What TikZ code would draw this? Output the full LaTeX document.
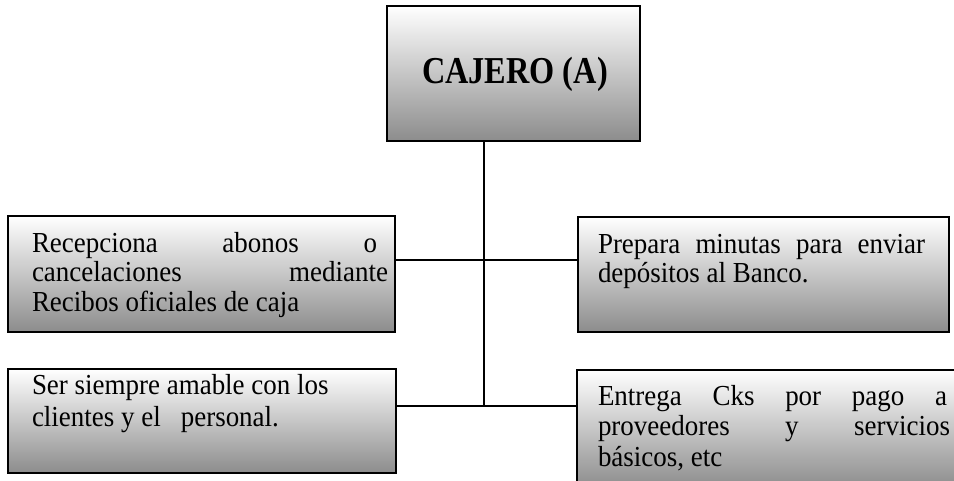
\documentclass[tikz,border=0pt]{standalone}
\usepackage{fontspec}
\setmainfont{Liberation Serif}
\newfontfamily\bodyfont[FakeStretch=0.93]{Liberation Serif}
\newfontfamily\titlefont[FakeStretch=0.85]{Liberation Serif}
\newcommand\bt{\bodyfont\fontsize{29}{29.5}\selectfont}
\tikzset{
  boxnode/.style={draw=black, line width=1.8pt, top color=white, middle color=black!18, bottom color=black!45,
    anchor=north west, inner sep=0pt, outer sep=0pt},
  txt/.style={anchor=base west, inner sep=0pt, outer sep=0pt, font=\bt},
  conn/.style={draw=black, line width=1.6pt}
}
\begin{document}
\begin{tikzpicture}[x=1pt,y=-1pt]
\clip (0,0) rectangle (954,480);
\useasboundingbox (0,0) rectangle (954,480);
% boxes
\node[boxnode, minimum width=253pt, minimum height=135pt] (top) at (387,6) {};
\node[boxnode, minimum width=387pt, minimum height=116pt] (l1) at (8,216) {};
\node[boxnode, minimum width=371pt, minimum height=115pt] (r1) at (578,217) {};
\node[boxnode, minimum width=388pt, minimum height=104pt] (l2) at (8,369) {};
\node[boxnode, minimum width=395pt, minimum height=118pt] (r2) at (577,370) {};
% texts
\node[anchor=base, inner sep=0pt] (tt) at (515,83) {\titlefont\bfseries\fontsize{38}{40}\selectfont CAJERO (A)};
\node[txt] (l1t) at (32,252) {\bt\vtop{\hbox{\makebox[345pt][s]{Recepciona abonos o}}\hbox{\makebox[356pt][s]{cancelaciones mediante}}\hbox{Recibos oficiales de caja}}};
\node[txt] (r1t) at (598,253) {\bt\vtop{\hbox{\makebox[327pt][s]{Prepara minutas para enviar}}\hbox{depósitos al Banco.}}};
\node[txt] (l2t) at (32,394) {\bt\baselineskip=32pt\vtop{\hbox{Ser siempre amable con los}\hbox{clientes y el\hspace{20pt}personal.}}};
\node[txt] (r2t) at (598,405) {\bt\baselineskip=30.5pt\vtop{\hbox{\makebox[349pt][s]{Entrega Cks por pago a}}\hbox{\makebox[352pt][s]{proveedores y servicios}}\hbox{básicos, etc}}};
% connectors
\coordinate (j1) at (484,260);
\coordinate (j2) at (484,406);
\draw[conn] (top.south -| j2) -- (j2);
\draw[conn] (l1.east |- j1) -- (r1.west |- j1);
\draw[conn] (l2.east |- j2) -- (r2.west |- j2);
\end{tikzpicture}
\end{document}
